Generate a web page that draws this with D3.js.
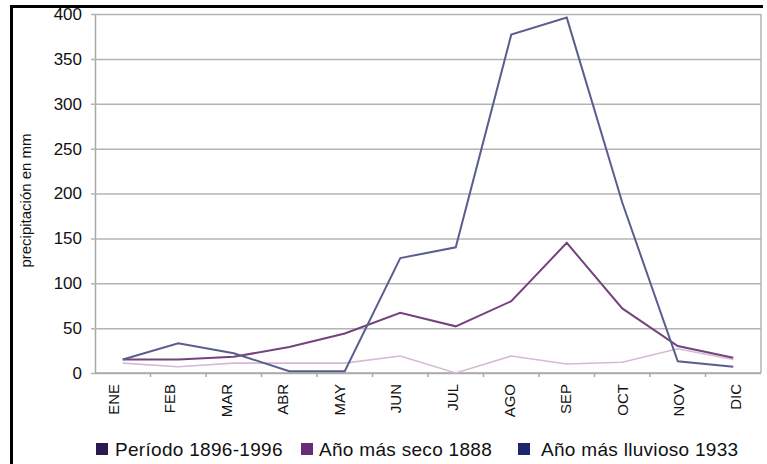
<!DOCTYPE html>
<html>
<head>
<meta charset="utf-8">
<script src="https://cdn.jsdelivr.net/npm/d3@7/dist/d3.min.js"></script>
<style>
  html, body { margin: 0; padding: 0; background: #fff; }
  svg { display: block; }
  text { font-family: "Liberation Sans", Arial, sans-serif; fill: #111; }
</style>
</head>
<body>
<svg id="chart" width="767" height="464"></svg>
<script>
const months = ["ENE","FEB","MAR","ABR","MAY","JUN","JUL","AGO","SEP","OCT","NOV","DIC"];
const periodo = [15,15,18,29,44,67,52,80,145,72,30,17];
const seco = [11,7,11,11,11,19,0,19,10,12,27,15];
const lluvioso = [15,33,22,2,2,128,140,377,396,190,13,7];
const yTicks = [0,50,100,150,200,250,300,350,400];
const legendLabels = ["Período 1896-1996","Año más seco 1888","Año más lluvioso 1933"];
const legendColors = ["#2b1a4f","#6a2a7a","#1f2670"];
const yTitle = "precipitación en mm";

const svg = d3.select("#chart");
const W = 767, H = 464;
const mLeft = 95, mRight = 761, mTop = 14, mBottom = 373;

// outer black frame (left and top visible)
svg.append("line").attr("x1",11.5).attr("x2",11.5).attr("y1",5).attr("y2",H).attr("stroke","#000").attr("stroke-width",3);
svg.append("line").attr("x1",10).attr("x2",763).attr("y1",6.5).attr("y2",6.5).attr("stroke","#000").attr("stroke-width",3);

const x = d3.scaleBand().domain(months).range([mLeft,mRight]).padding(0);
const xLab = d3.scalePoint().domain(months).range([113,735]);
const y = d3.scaleLinear().domain([0,400]).range([mBottom,mTop]);

// gridlines
const gy = svg.append("g").attr("transform",`translate(${mLeft},0)`)
  .call(d3.axisLeft(y).tickValues(yTicks).tickSize(-(mRight-mLeft)).tickSizeOuter(0).tickPadding(13).tickFormat(d3.format("d")));
gy.select(".domain").attr("stroke","#a8a8a8").attr("stroke-width",1.5);
gy.selectAll(".tick line").attr("stroke","#b4b4b4").attr("stroke-width",1.5).attr("x1",-4);
gy.selectAll(".tick text").attr("font-size",17).attr("fill","#1a1a1a").attr("font-family","Liberation Sans, Arial, sans-serif");

// right plot border
svg.append("line").attr("x1",mRight).attr("x2",mRight).attr("y1",mTop).attr("y2",mBottom).attr("stroke","#b4b4b4").attr("stroke-width",1.5);

// x axis line
svg.append("line").attr("x1",mLeft).attr("x2",mRight).attr("y1",mBottom).attr("y2",mBottom).attr("stroke","#a8a8a8").attr("stroke-width",1.5);
// x labels
const gx = svg.append("g").attr("transform",`translate(0,${mBottom})`)
  .call(d3.axisBottom(xLab).tickSize(0).tickPadding(0));
gx.select(".domain").remove();
gx.selectAll(".tick text")
  .attr("font-size",15).attr("fill","#1a1a1a").attr("font-family","Liberation Sans, Arial, sans-serif")
  .attr("text-anchor","end")
  .attr("transform","translate(0,11) rotate(-90)")
  .attr("dy","0.35em").attr("x",0).attr("y",0);
// tick marks between categories
svg.append("g").selectAll("line").data(months.slice(1)).join("line")
  .attr("x1",d=>x(d)).attr("x2",d=>x(d)).attr("y1",mBottom).attr("y2",mBottom+4)
  .attr("stroke","#a8a8a8").attr("stroke-width",1.5);

// y title
svg.append("text").attr("transform",`translate(26,${(mTop+mBottom)/2+7}) rotate(-90)`)
  .attr("text-anchor","middle").attr("dy","0.35em").attr("font-size",15).text(yTitle);

const line = d3.line().x((d,i)=>x(months[i])+x.bandwidth()/2).y(d=>y(d));
svg.append("path").datum(seco).attr("d",line).attr("fill","none").attr("stroke","#d6b9d8").attr("stroke-width",1.6);
svg.append("path").datum(periodo).attr("d",line).attr("fill","none").attr("stroke","#74437e").attr("stroke-width",2);
svg.append("path").datum(lluvioso).attr("d",line).attr("fill","none").attr("stroke","#5a5e8e").attr("stroke-width",2);

// legend
const legX = [96,301,518];
const legTX = [115,319,541];
const lg = svg.append("g");
legendLabels.forEach((t,i)=>{
  lg.append("rect").attr("x",legX[i]).attr("y",443).attr("width",12).attr("height",12).attr("fill",legendColors[i]);
  lg.append("text").attr("x",legTX[i]).attr("y",456).attr("font-size",19).attr("letter-spacing","0.3px").attr("fill","#111").text(t);
});
</script>
</body>
</html>
